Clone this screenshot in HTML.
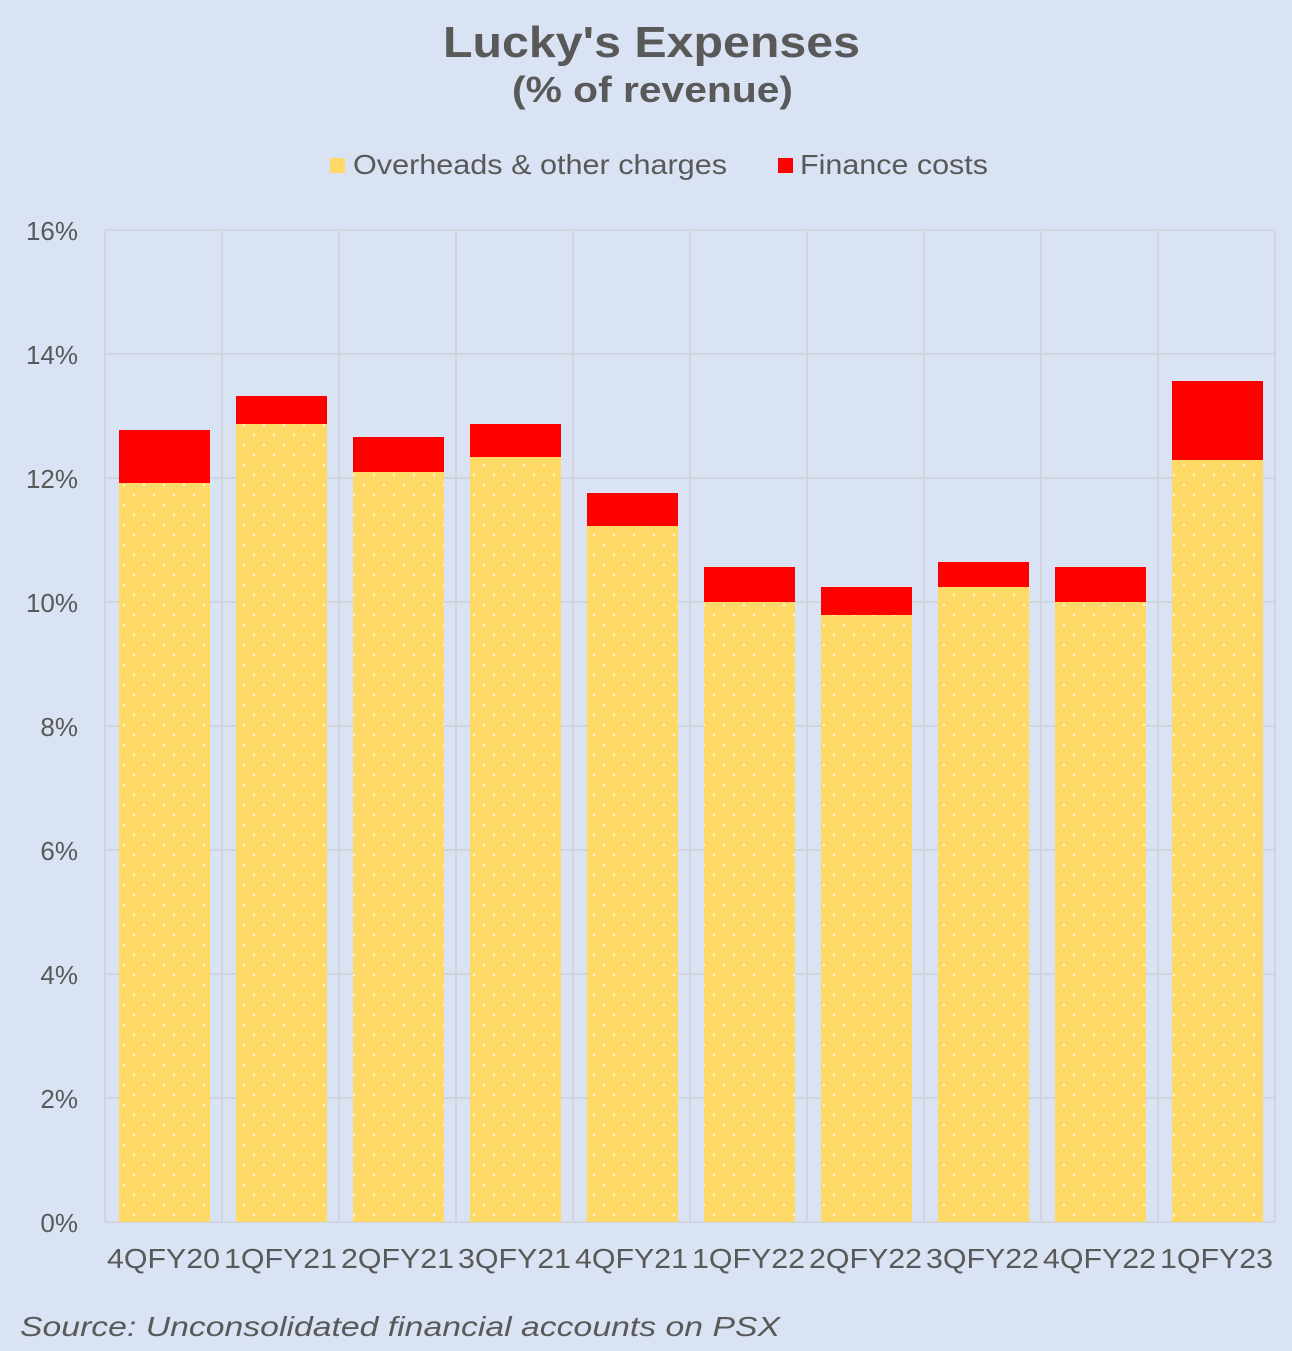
<!DOCTYPE html>
<html><head><meta charset="utf-8"><style>
html,body{margin:0;padding:0;background:#dae3f3;}
svg{display:block;font-family:"Liberation Sans",Arial,sans-serif;}
</style></head><body>
<svg width="1292" height="1351" viewBox="0 0 1292 1351" xmlns="http://www.w3.org/2000/svg">
<defs>
<pattern id="dots" width="20" height="20" patternUnits="userSpaceOnUse" x="119" y="0">
<rect width="20" height="20" fill="#ffd966"/>
<circle cx="5" cy="5" r="1.3" fill="#fff5d0"/>
<circle cx="15" cy="15" r="1.3" fill="#fff5d0"/>
</pattern>
</defs>
<rect width="1292" height="1351" fill="#dae3f3"/>
<text x="443" y="57" textLength="417" lengthAdjust="spacingAndGlyphs" font-size="44" font-weight="bold" fill="#595959">Lucky's Expenses</text>
<text x="512" y="102" textLength="281" lengthAdjust="spacingAndGlyphs" font-size="36" font-weight="bold" fill="#595959">(% of revenue)</text>
<rect x="330" y="158" width="15" height="15" fill="#ffd966"/>
<text x="353" y="174" textLength="374" lengthAdjust="spacingAndGlyphs" font-size="28" fill="#595959">Overheads &amp; other charges</text>
<rect x="778" y="158" width="15" height="15" fill="#ff0000"/>
<text x="800" y="174" textLength="188" lengthAdjust="spacingAndGlyphs" font-size="28" fill="#595959">Finance costs</text>
<g stroke="#d0d4dc" stroke-width="2">
<line x1="105" y1="230" x2="1275" y2="230"/><line x1="105" y1="354" x2="1275" y2="354"/>
<line x1="105" y1="478" x2="1275" y2="478"/><line x1="105" y1="602" x2="1275" y2="602"/>
<line x1="105" y1="726" x2="1275" y2="726"/><line x1="105" y1="850" x2="1275" y2="850"/>
<line x1="105" y1="974" x2="1275" y2="974"/><line x1="105" y1="1098" x2="1275" y2="1098"/>
<line x1="105" y1="1222" x2="1275" y2="1222"/>
<line x1="105" y1="230" x2="105" y2="1222"/><line x1="222" y1="230" x2="222" y2="1222"/>
<line x1="339" y1="230" x2="339" y2="1222"/><line x1="456" y1="230" x2="456" y2="1222"/>
<line x1="573" y1="230" x2="573" y2="1222"/><line x1="690" y1="230" x2="690" y2="1222"/>
<line x1="807" y1="230" x2="807" y2="1222"/><line x1="924" y1="230" x2="924" y2="1222"/>
<line x1="1041" y1="230" x2="1041" y2="1222"/><line x1="1158" y1="230" x2="1158" y2="1222"/>
<line x1="1275" y1="230" x2="1275" y2="1222"/>
</g>
<g font-size="26" fill="#595959" text-anchor="end">
<text x="78" y="240">16%</text><text x="78" y="364">14%</text><text x="78" y="488">12%</text>
<text x="78" y="612">10%</text><text x="78" y="736">8%</text><text x="78" y="860">6%</text>
<text x="78" y="984">4%</text><text x="78" y="1108">2%</text><text x="78" y="1232">0%</text>
</g>
<g>
<rect x="119" y="483" width="91" height="739" fill="url(#dots)"/><rect x="119" y="430" width="91" height="53" fill="#ff0000"/>
<rect x="236" y="424" width="91" height="798" fill="url(#dots)"/><rect x="236" y="396" width="91" height="28" fill="#ff0000"/>
<rect x="353" y="472" width="91" height="750" fill="url(#dots)"/><rect x="353" y="437" width="91" height="35" fill="#ff0000"/>
<rect x="470" y="457" width="91" height="765" fill="url(#dots)"/><rect x="470" y="424" width="91" height="33" fill="#ff0000"/>
<rect x="587" y="526" width="91" height="696" fill="url(#dots)"/><rect x="587" y="493" width="91" height="33" fill="#ff0000"/>
<rect x="704" y="602" width="91" height="620" fill="url(#dots)"/><rect x="704" y="567" width="91" height="35" fill="#ff0000"/>
<rect x="821" y="615" width="91" height="607" fill="url(#dots)"/><rect x="821" y="587" width="91" height="28" fill="#ff0000"/>
<rect x="938" y="587" width="91" height="635" fill="url(#dots)"/><rect x="938" y="562" width="91" height="25" fill="#ff0000"/>
<rect x="1055" y="602" width="91" height="620" fill="url(#dots)"/><rect x="1055" y="567" width="91" height="35" fill="#ff0000"/>
<rect x="1172" y="460" width="91" height="762" fill="url(#dots)"/><rect x="1172" y="381" width="91" height="79" fill="#ff0000"/>
</g>
<g font-size="28" fill="#595959" lengthAdjust="spacingAndGlyphs">
<text x="107" y="1268" textLength="113" lengthAdjust="spacingAndGlyphs">4QFY20</text>
<text x="224" y="1268" textLength="113" lengthAdjust="spacingAndGlyphs">1QFY21</text>
<text x="341" y="1268" textLength="113" lengthAdjust="spacingAndGlyphs">2QFY21</text>
<text x="458" y="1268" textLength="113" lengthAdjust="spacingAndGlyphs">3QFY21</text>
<text x="575" y="1268" textLength="113" lengthAdjust="spacingAndGlyphs">4QFY21</text>
<text x="692" y="1268" textLength="113" lengthAdjust="spacingAndGlyphs">1QFY22</text>
<text x="809" y="1268" textLength="113" lengthAdjust="spacingAndGlyphs">2QFY22</text>
<text x="926" y="1268" textLength="113" lengthAdjust="spacingAndGlyphs">3QFY22</text>
<text x="1043" y="1268" textLength="113" lengthAdjust="spacingAndGlyphs">4QFY22</text>
<text x="1160" y="1268" textLength="113" lengthAdjust="spacingAndGlyphs">1QFY23</text>
</g>
<text x="20" y="1336" textLength="760" lengthAdjust="spacingAndGlyphs" font-size="28" font-style="italic" fill="#595959">Source: Unconsolidated financial accounts on PSX</text>
</svg>
</body></html>
